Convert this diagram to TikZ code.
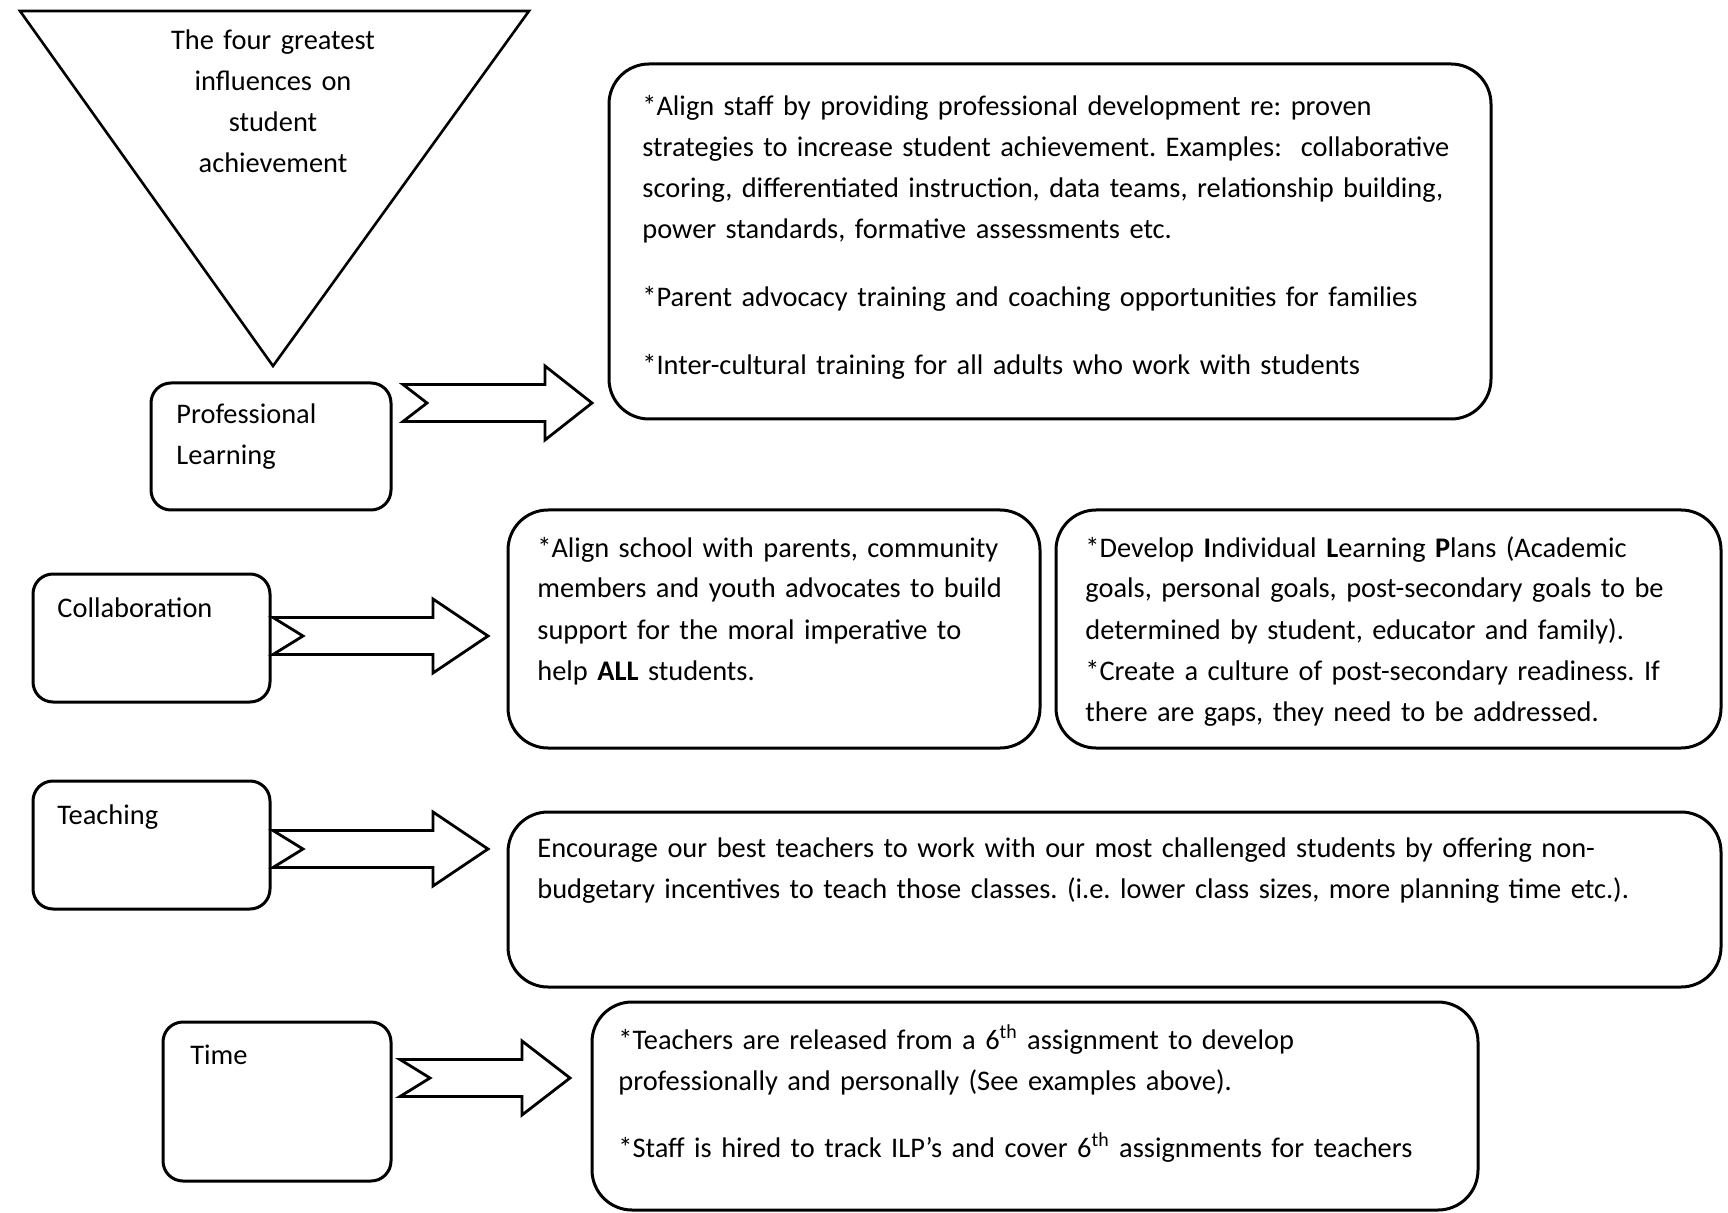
\documentclass[tikz,border=0pt]{standalone}
\usepackage{fontspec}
\setmainfont{Carlito}
\usetikzlibrary{calc}
\frenchspacing
\newcommand\blockarrow[6]{%
  \coordinate (#6s) at (#1,#2);
  \coordinate (#6e) at (#5,#2);
  \draw[barrow] (#6s) ++(0,-18.5) -- (#4,#2-18.5) -- (#4,#2-37) -- (#6e) -- (#4,#2+37) -- (#4,#2+18.5) -- (#1,#2+18.5) -- (#3,#2) -- cycle;}
\begin{document}
\begin{tikzpicture}[x=0.5pt,y=-0.5pt,
  lbl/.style={draw, line width=1.5pt, rounded corners=10pt, inner sep=0pt},
  big/.style={draw, line width=1.5pt, rounded corners=20pt, inner sep=0pt},
  txt/.style={inner sep=0pt, align=left, anchor=base west, font=\fontsize{14.2}{20.5}\selectfont},
  barrow/.style={draw, line width=1.4pt, fill=white, line join=miter}]

\fill[white] (0,0) rectangle (1728,1213);
\useasboundingbox (0,0) rectangle (1728,1213);

% inverted triangle
\coordinate (tl) at (20,11);
\coordinate (tr) at (529,11);
\coordinate (apex) at (273,366);
\draw[line width=1.3pt, line join=miter] (tl) -- (tr) -- (apex) -- cycle;
\node[inner sep=0pt, align=center, text width=130pt, anchor=base, font=\fontsize{14.2}{20.5}\selectfont] (title) at (273,50)
  {The four greatest\\influences on\\student\\achievement};

% left label boxes
\node[lbl, minimum width=120pt, minimum height=63.5pt] (pl) at (271,446.5) {};
\node[txt, text width=100pt] (plt) at (176,424) {Professional\\Learning};

\node[lbl, minimum width=118.5pt, minimum height=64pt] (col) at (151.5,638) {};
\node[txt, text width=100pt] (colt) at (57,617) {Collaboration};

\node[lbl, minimum width=118.5pt, minimum height=64pt] (tea) at (151.5,845) {};
\node[txt, text width=100pt] (teat) at (57,824) {Teaching};

\node[lbl, minimum width=114pt, minimum height=79.5pt] (tim) at (277,1101.5) {};
\node[txt, text width=100pt] (timt) at (190,1064) {Time};

% content boxes
\node[big, minimum width=441pt, minimum height=177.5pt] (b1) at (1050,241.5) {};
\node[txt, text width=440pt] (b1t) at (642,116)
  {*Align staff by providing professional development re: proven\\
   strategies to increase student achievement. Examples:\ \ collaborative\\
   scoring, differentiated instruction, data teams, relationship building,\\
   power standards, formative assessments etc.\\[13.5pt]
   {}*Parent advocacy training and coaching opportunities for families\\[13.5pt]
   {}*Inter-cultural training for all adults who work with students};

\node[big, minimum width=266pt, minimum height=119pt] (b2) at (774,629) {};
\node[txt, text width=250pt] (b2t) at (537,557)
  {*Align school with parents, community\\
   members and youth advocates to build\\
   support for the moral imperative to\\
   help \textbf{ALL} students.};

\node[big, minimum width=332.5pt, minimum height=119pt] (b3) at (1388.5,629) {};
\node[txt, text width=315pt] (b3t) at (1085,557)
  {*Develop \textbf{I}ndividual \textbf{L}earning \textbf{P}lans (Academic\\
   goals, personal goals, post-secondary goals to be\\
   determined by student, educator and family).\\
   {}*Create a culture of post-secondary readiness. If\\
   there are gaps, they need to be addressed.};

\node[big, minimum width=606.5pt, minimum height=87.5pt] (b4) at (1114.5,899.5) {};
\node[txt, text width=590pt] (b4t) at (537,857)
  {Encourage our best teachers to work with our most challenged students by offering non-\\
   budgetary incentives to teach those classes. (i.e. lower class sizes, more planning time etc.).};

\node[big, minimum width=443pt, minimum height=104pt] (b5) at (1035,1106) {};
\node[txt, text width=430pt] (b5t) at (618,1049)
  {*Teachers are released from a 6\textsuperscript{th} assignment to develop\\
   professionally and personally (See examples above).\\[13pt]
   {}*Staff is hired to track ILP’s and cover 6\textsuperscript{th} assignments for teachers};

% block arrows
\blockarrow{403}{403}{427}{545}{592}{a1}
\blockarrow{273}{636}{303}{433}{488}{a2}
\blockarrow{273}{849}{303}{433}{488}{a3}
\blockarrow{400}{1078}{430}{522}{570}{a4}
\end{tikzpicture}
\end{document}
